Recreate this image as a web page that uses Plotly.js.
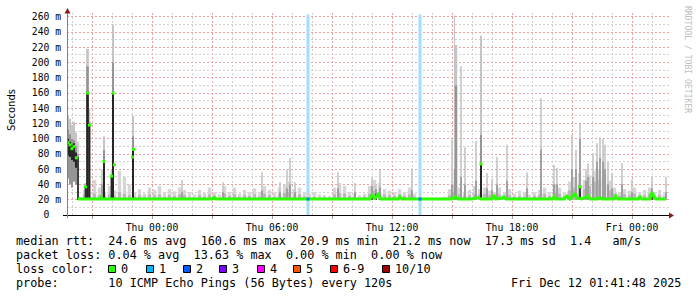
<!DOCTYPE html>
<html><head><meta charset="utf-8">
<script src="https://cdn.plot.ly/plotly-3.0.1.min.js"></script>
<style>html,body{margin:0;padding:0;background:#fff;}#chart{width:697px;height:297px;}</style>
</head><body><div id="chart"></div>
<script>
// ---- time axis: hours relative to Thu 00:00 ----
const xTickVals = [-3, 0, 3, 6, 9, 12, 15, 18, 21, 24];
const xTickText = ['', 'Thu 00:00', '', 'Thu 06:00', '', 'Thu 12:00', '', 'Thu 18:00', '', 'Fri 00:00'];
const yTickVals = [0, 20, 40, 60, 80, 100, 120, 140, 160, 180, 200, 220, 240, 260];
const yTickText = ['0\u00A0\u00A0', '20 m', '40 m', '60 m', '80 m', '100 m', '120 m', '140 m', '160 m', '180 m', '200 m', '220 m', '240 m', '260 m'];

// ---- background noise smoke (15-minute bins starting Wed 19:45) ----
const noiseStart = -4.25, noiseStep = 0.25;
const noiseTop = [0,0,24,33,30,46,36,30,38,32, 58,50,40,30,34,28,36,33,38,30, 34,31,36,33,30,27,33,29,36,30,
  27,38,30,36,28,33,30,35,30,38, 33,30,36,40,44,34,36,30,28,30, 27,26,25,36,42,38,30,28,26,28,
  38,46,42,34,32,30,34,30,36,28, 0,0,0,0,0,24,34,40,36,30, 33,38,34,36,32,30,36,30,34,28,
  32,30,27,30,33,36,30,40,36,30, 44,50,55,46,52,58,60,55,45,36, 30,34,32,36,30,33,36,30,33,28];
const noiseMid = [0,0,22,26,25,28,26,24,27,25, 30,28,26,24,26,24,27,26,27,24, 26,25,27,26,24,23,26,24,27,25,
  23,28,25,27,24,26,25,27,24,28, 26,24,27,29,30,26,27,24,23,24, 23,23,22,27,29,28,25,24,23,24,
  28,32,30,27,26,25,27,25,27,24, 0,0,0,0,0,22,26,30,27,25, 26,28,27,28,26,25,27,25,26,24,
  25,24,23,25,26,28,25,30,28,25, 32,36,40,34,38,44,46,40,32,28, 25,27,26,28,25,26,28,25,26,24];
const noiseBase = 20;

// ---- spikes (smoke columns) ----
const spikeT = [-4.2,-4.1,-4.0,-3.9,-3.8,-3.7,-3.325,-3.225,-3.125,-2.5,-2.4,-2.025,-1.95,-0.95,
  1.5,3.55,5.5,6.4,6.75,6.9,7.15,9.3,10.15,11.0,11.2,11.4,13.0,
  15.0,15.125,15.2,15.45,15.65,16.2,16.45,16.75,17.0,17.25,17.75,18.75,19.45,20.1,20.25,
  21.0,21.2,21.4,21.7,21.8,22.05,22.25,22.4,22.55,22.65,22.8,23.0,23.5,24.0,25.0,25.7];
const spikeLo = [48,40,36,44,40,20,20,20,20,20,20,20,20,20,
  20,20,20,20,20,20,20,20,20,20,20,20,20,
  20,20,20,20,20,20,20,20,20,20,20,20,20,20,20,
  20,20,20,20,20,20,20,20,20,20,20,20,20,20,20,20];
const spikeLight = [130,126,118,122,108,96,42,218,140,60,103,60,250,130,
  46,43,56,43,59,75,43,56,42,49,40,59,61,
  99,262,223,195,89,97,235,55,47,76,92,56,153,66,62,
  105,86,121,60,68,81,94,102,100,92,70,55,68,47,50,50];
const spikeMid = [112,106,100,98,90,80,34,195,122,40,85,50,200,103,
  30,30,32,30,35,40,30,35,30,38,34,36,32,
  40,60,170,50,40,45,105,35,32,40,45,35,86,40,40,
  60,60,100,45,50,50,70,75,70,60,40,35,40,30,35,30];
const spikeDarkLo = [78,76,72,70,62,20,20,20,20,0,20,20,20,20,
  0,0,0,0,0,0,0,0,0,20,20,20,0,
  0,0,0,0,0,0,20,0,0,0,0,0,0,0,0,
  0,0,20,0,0,0,0,0,0,0,0,0,0,0,20,0];
const spikeDarkHi = [100,96,92,94,82,76,37,160,118,0,72,52,160,87,
  0,0,0,0,0,0,0,0,0,27,28,26,0,
  0,0,0,0,0,0,67,0,0,0,0,0,0,0,0,
  0,0,37,0,0,0,0,0,0,0,0,0,0,0,30,0];
const spikeW = [0.1,0.1,0.1,0.1,0.1,0.08,0.08,0.13,0.08,0.08,0.1,0.08,0.1,0.1,
  0.08,0.08,0.08,0.08,0.08,0.08,0.08,0.08,0.08,0.08,0.08,0.08,0.08,
  0.08,0.06,0.12,0.08,0.08,0.08,0.1,0.08,0.08,0.08,0.08,0.08,0.08,0.08,0.08,
  0.08,0.08,0.08,0.08,0.08,0.08,0.08,0.08,0.08,0.08,0.08,0.08,0.08,0.08,0.08,0.08];

// ---- median rtt ----
const medT = [-3.7,-2.6,-2.55,-2.5,3.0,3.1,3.2,10.9,11.0,11.15,11.3,11.45,12.3,12.4,12.5,15.0,15.15,15.3,
  16.0,16.3,16.45,17.0,17.1,17.2,17.5,17.6,17.7,20.0,20.1,20.2,20.6,20.75,20.9,21.15,21.25,21.5,21.8,21.9,
  22.3,22.4,22.5,23.1,23.2,23.3,24.3,24.4,24.5,24.9,25.0,25.1,25.2,25.7];
const medV = [21,21,23,21,21,23,21,21,26,22,27,21,21,24,21,21,24,21,
  21,23,21,21,26,21,22,24,21,21,24,21,21,25,21,28,22,21,25,21,
  21,23,21,21,25,21,21,24,21,21,30,24,21,21];
const medPtT = [-4.2,-4.1,-4.0,-3.9,-3.78,-3.325,-3.225,-3.125,-2.4,-2.025,-1.95,-1.88,-0.975,-0.925,16.45,21.4];
const medPtV = [95,92,87,90,75,37,160,118,70,51,160,66,76,86,67,37];

// ---- loss events ----
const lossT = [7.8, 13.4];
const lossTop = [263, 263];
const lossMed = [21, 21];

// ---- legend texts ----
const legendLines = [
  'median rtt:  24.6 ms avg  160.6 ms max  20.9 ms min  21.2 ms now  17.3 ms sd  1.4   am/s',
  'packet loss: 0.04 % avg  13.63 % max  0.00 % min  0.00 % now',
  'loss color:',
  'probe:       10 ICMP Echo Pings (56 Bytes) every 120s'
];
const lossLabels = ['0', '1', '2', '3', '4', '5', '6-9', '10/10'];
const lossColors = ['#26ff00', '#00b8ff', '#0059ff', '#7e00ff', '#ff00ff', '#ff5500', '#ff0000', '#a00000'];
const stamp = 'Fri Dec 12 01:41:48 2025';

// ---- geometry helpers (pixel -> paper) ----
const L = 67, T = 13, PW = 602, PH = 202;
const px = x => (x - L) / PW;
const py = y => (T + PH - y) / PH;
const nb = s => s.replace(/ /g, '\u00A0');

const noiseT = noiseTop.map((_, i) => noiseStart + noiseStep * (i + 0.5));
const nIdx = noiseTop.map((v, i) => i).filter(i => noiseTop[i] > 0);
const dIdx = spikeT.map((v, i) => i).filter(i => spikeDarkHi[i] > 0);

// minor grid positions (hourly / every 10 ms, skipping the major ones)
const xMinor = [], yMinor = [];
for (let h = -4; h <= 25; h++) if (h % 3 !== 0) xMinor.push(h);
for (let v = 10; v <= 250; v += 20) yMinor.push(v);

const traces = [
  {type: 'bar', x: lossT, y: lossTop, base: lossT.map(() => 0), width: lossT.map(() => 0.15),
   marker: {color: '#a3ddf7', line: {width: 0}}, hoverinfo: 'skip'},
  {type: 'bar', x: nIdx.map(i => noiseT[i]), y: nIdx.map(i => noiseTop[i] - noiseBase), base: nIdx.map(() => noiseBase),
   width: nIdx.map(() => 0.17), marker: {color: '#d6d6d6', line: {width: 0}}, hoverinfo: 'skip'},
  {type: 'bar', x: nIdx.map(i => noiseT[i]), y: nIdx.map(i => noiseMid[i] - noiseBase), base: nIdx.map(() => noiseBase),
   width: nIdx.map(() => 0.17), marker: {color: '#b8b8b8', line: {width: 0}}, hoverinfo: 'skip'},
  {type: 'bar', x: spikeT, y: spikeLight.map((v, i) => v - spikeLo[i]), base: spikeLo, width: spikeW,
   marker: {color: '#c4c4c4', line: {width: 0}}, hoverinfo: 'skip'},
  {type: 'bar', x: spikeT, y: spikeMid.map((v, i) => v - spikeLo[i]), base: spikeLo, width: spikeW,
   marker: {color: '#959595', line: {width: 0}}, hoverinfo: 'skip'},
  {type: 'scatter', mode: 'lines', x: medT, y: medV, line: {color: '#2bff00', width: 3}, hoverinfo: 'skip'},
  {type: 'bar', x: dIdx.map(i => spikeT[i]), y: dIdx.map(i => spikeDarkHi[i] - spikeDarkLo[i]), base: dIdx.map(i => spikeDarkLo[i]),
   width: dIdx.map(i => spikeW[i]), marker: {color: '#262626', line: {width: 0}}, hoverinfo: 'skip'},
  {type: 'scatter', mode: 'markers', x: medPtT, y: medPtV, marker: {color: '#2bff00', size: 3, symbol: 'square'}, hoverinfo: 'skip'},
  {type: 'scatter', mode: 'markers', x: lossT, y: lossMed, marker: {color: '#0a7cff', size: 3, symbol: 'square'}, hoverinfo: 'skip'},
  {type: 'scatter', mode: 'markers', x: [], y: [], xaxis: 'x2', yaxis: 'y2', hoverinfo: 'skip'}
];

const mono = 'DejaVu Sans Mono';
const annotations = [];
const lineY = [241, 255, 269, 283];
legendLines.forEach((s, i) => {
  annotations.push({xref: 'paper', yref: 'paper', x: px(15.5), y: py(lineY[i]), xanchor: 'left', yanchor: 'middle',
    text: nb(s), showarrow: false, borderpad: 0, borderwidth: 0, font: {family: mono, size: 11.8, color: '#000'}});
});
annotations.push({xref: 'paper', yref: 'paper', x: px(681), y: py(lineY[3]), xanchor: 'right', yanchor: 'middle',
  text: nb(stamp), showarrow: false, borderpad: 0, borderwidth: 0, font: {family: mono, size: 11.8, color: '#000'}});
const sqLeft = [108, 146, 183, 219, 257, 293, 330, 382];
const shapes = [];
lossLabels.forEach((lab, i) => {
  annotations.push({xref: 'paper', yref: 'paper', x: px(sqLeft[i] + 13), y: py(lineY[2]), xanchor: 'left', yanchor: 'middle',
    text: nb(lab), showarrow: false, borderpad: 0, borderwidth: 0, font: {family: mono, size: 11.8, color: '#000'}});
  shapes.push({type: 'rect', xref: 'paper', yref: 'paper', x0: px(sqLeft[i] + 0.5), x1: px(sqLeft[i] + 7.5),
    y0: py(265.5), y1: py(272.5), fillcolor: lossColors[i], line: {color: '#000', width: 1}});
});
annotations.push({xref: 'paper', yref: 'paper', x: px(11), y: py(110), xanchor: 'center', yanchor: 'middle', textangle: -90,
  text: 'Seconds', showarrow: false, borderpad: 0, borderwidth: 0, font: {family: 'DejaVu Sans', size: 10, color: '#000'}});
annotations.push({xref: 'paper', yref: 'paper', x: px(688), y: py(59), xanchor: 'center', yanchor: 'middle', textangle: 90,
  text: nb('RRDTOOL / TOBI OETIKER'), showarrow: false,
  borderpad: 0, borderwidth: 0, font: {family: mono, size: 8.1, color: '#bdbdbd'}});

// axis lines and arrows
shapes.push({type: 'line', xref: 'paper', yref: 'paper', x0: px(63), x1: px(670), y0: py(215.5), y1: py(215.5), line: {color: '#000', width: 1}});
shapes.push({type: 'line', xref: 'paper', yref: 'paper', x0: px(67.5), x1: px(67.5), y0: py(218), y1: py(11), line: {color: '#7f7f7f', width: 1}});
shapes.push({type: 'path', xref: 'paper', yref: 'paper',
  path: `M ${px(64.5)} ${py(13.5)} L ${px(70.5)} ${py(13.5)} L ${px(67.5)} ${py(8)} Z`, fillcolor: '#8b1a1a', line: {width: 0}});
shapes.push({type: 'path', xref: 'paper', yref: 'paper',
  path: `M ${px(669)} ${py(212.5)} L ${px(669)} ${py(218.5)} L ${px(674)} ${py(215.5)} Z`, fillcolor: '#8b1a1a', line: {width: 0}});

const redGrid = '#eaa2a2', greyGrid = '#d0d0d0';
const gridDash = '2px,2px';
const xRange = [-4.25, 25.85], yRange = [0, 265];
const layout = {
  width: 697, height: 297,
  margin: {l: L, r: 697 - L - PW, t: T, b: 297 - T - PH, pad: 0},
  paper_bgcolor: '#fff', plot_bgcolor: '#fff',
  showlegend: false, barmode: 'overlay',
  xaxis: {type: 'linear', range: xRange, tickmode: 'array', tickvals: xTickVals, ticktext: xTickText,
    showgrid: true, gridcolor: redGrid, gridwidth: 1, griddash: gridDash, zeroline: false, showline: false,
    ticks: 'outside', ticklen: 3, tickcolor: '#a0a0a0', tickwidth: 1,
    tickfont: {family: mono, size: 9.7, color: '#000'}, fixedrange: true},
  yaxis: {type: 'linear', range: yRange, tickmode: 'array', tickvals: yTickVals, ticktext: yTickText,
    showgrid: true, gridcolor: redGrid, gridwidth: 1, griddash: gridDash, zeroline: false, showline: false, ticks: '',
    tickfont: {family: mono, size: 9.7, color: '#000'}, ticklabelstandoff: 5, fixedrange: true},
  xaxis2: {type: 'linear', range: xRange, overlaying: 'x', anchor: 'y2', tickmode: 'array', tickvals: xMinor,
    showgrid: true, gridcolor: greyGrid, gridwidth: 1, griddash: gridDash, showticklabels: false, ticks: '',
    zeroline: false, showline: false, fixedrange: true},
  yaxis2: {type: 'linear', range: yRange, overlaying: 'y', anchor: 'x2', tickmode: 'array', tickvals: yMinor,
    showgrid: true, gridcolor: greyGrid, gridwidth: 1, griddash: gridDash, showticklabels: false, ticks: '',
    zeroline: false, showline: false, fixedrange: true},
  annotations: annotations,
  shapes: shapes
};
Plotly.newPlot('chart', traces, layout, {staticPlot: true, displayModeBar: false});
</script></body></html>
